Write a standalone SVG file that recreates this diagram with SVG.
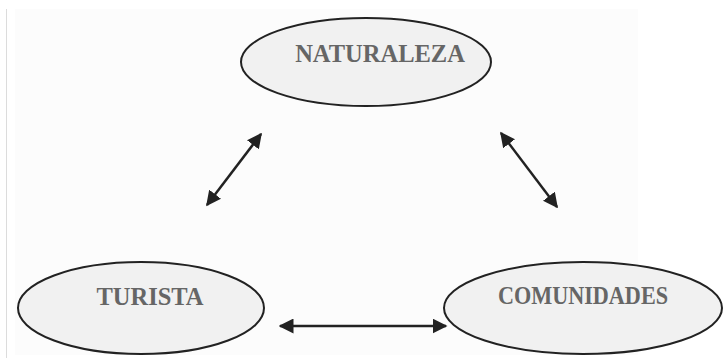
<svg xmlns="http://www.w3.org/2000/svg" width="725" height="362" viewBox="0 0 725 362">
  <defs>
    <style>
      .node ellipse { fill: #f1f1f1; stroke: #222; stroke-width: 2; }
      .node text { font-family: "Liberation Serif", "Times New Roman", serif; font-weight: bold; fill: #666; text-anchor: middle; }
      .conn line { stroke: #222; stroke-width: 2.5; }
    </style>
    <marker id="ah" viewBox="0 0 10 10" refX="9" refY="5" markerWidth="6" markerHeight="6" markerUnits="strokeWidth" orient="auto-start-reverse">
      <path d="M0,0 L10,5 L0,10 z" fill="#222"/>
    </marker>
  </defs>
  <rect x="0" y="0" width="725" height="362" fill="#ffffff"/>
  <rect x="15" y="9" width="623" height="346" fill="#fcfcfc"/>
  <line x1="6.5" y1="9" x2="6.5" y2="358" stroke="#dcdcdc" stroke-width="1"/>

  <g id="conectores" class="conn">
    <line x1="207" y1="205" x2="261" y2="134" marker-start="url(#ah)" marker-end="url(#ah)"/>
    <line x1="501" y1="133" x2="557" y2="207" marker-start="url(#ah)" marker-end="url(#ah)"/>
    <line x1="280" y1="326" x2="446" y2="326" marker-start="url(#ah)" marker-end="url(#ah)"/>
  </g>

  <g id="naturaleza" class="node">
    <ellipse cx="366" cy="62" rx="125" ry="44"/>
    <text x="380" y="62" font-size="24.5">NATURALEZA</text>
  </g>
  <g id="turista" class="node">
    <ellipse cx="141" cy="308" rx="123" ry="46"/>
    <text x="150" y="305" font-size="24.5">TURISTA</text>
  </g>
  <g id="comunidades" class="node">
    <ellipse cx="583" cy="308" rx="139" ry="46"/>
    <text x="583" y="304" font-size="24.5" textLength="170" lengthAdjust="spacingAndGlyphs">COMUNIDADES</text>
  </g>
</svg>
